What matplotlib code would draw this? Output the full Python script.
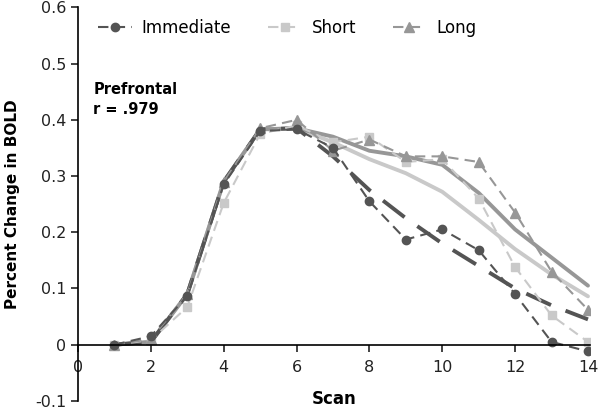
import numpy as np
import matplotlib.pyplot as plt

scan = np.arange(1, 15)

# observed values
immediate = [0, 0.015, 0.087, 0.285, 0.38, 0.383, 0.35, 0.255, 0.187, 0.205, 0.168, 0.09, 0.005, -0.012]
short = [0, 0.008, 0.067, 0.252, 0.375, 0.39, 0.36, 0.37, 0.325, 0.33, 0.26, 0.138, 0.052, 0.005]
long_ = [0, 0.01, 0.09, 0.29, 0.385, 0.4, 0.345, 0.365, 0.335, 0.335, 0.325, 0.235, 0.13, 0.062]

# model fits
immediate_fit = [0, 0.005, 0.09, 0.29, 0.383, 0.385, 0.335, 0.275, 0.225, 0.18, 0.14, 0.1, 0.07, 0.045]
short_fit = [0, 0.005, 0.09, 0.29, 0.383, 0.385, 0.36, 0.33, 0.305, 0.272, 0.222, 0.17, 0.125, 0.086]
long_fit = [0, 0.005, 0.09, 0.29, 0.383, 0.385, 0.37, 0.345, 0.335, 0.32, 0.27, 0.205, 0.155, 0.105]

yticks = [-0.1, 0, 0.1, 0.2, 0.3, 0.4, 0.5, 0.6]
ylabels = ['-0.1', '0', '0.1', '0.2', '0.3', '0.4', '0.5', '0.6']

c_imm = '#545454'
c_short = '#c9c9c9'
c_long = '#979797'

fig = plt.figure(figsize=(6, 4.12), dpi=100)
ax = fig.add_axes([0.13, 0.027, 0.853, 0.955])

# fits (thick, no markers)
ax.plot(scan, short_fit, color=c_short, lw=2.8, solid_capstyle='round')
ax.plot(scan, long_fit, color=c_long, lw=2.8, solid_capstyle='round')
ax.plot(scan, immediate_fit, color=c_imm, lw=2.8, dashes=(7, 4))

# observed data
ax.plot(scan, short, color=c_short, lw=1.5, dashes=(5, 3), marker='s', ms=5.5, label='Short')
ax.plot(scan, long_, color=c_long, lw=1.5, dashes=(5, 3), marker='^', ms=6.5, label='Long')
ax.plot(scan, immediate, color=c_imm, lw=1.5, dashes=(5, 3), marker='o', ms=6, label='Immediate')

ax.set_xlim(0, 14.05)
ax.set_ylim(-0.1, 0.6)
ax.set_xticks(range(0, 15, 2))
ax.set_yticks(yticks)
ax.set_yticklabels(ylabels)

ax.spines['top'].set_visible(False)
ax.spines['right'].set_visible(False)
ax.spines['bottom'].set_position(('data', 0))
ax.spines['left'].set_linewidth(1.2)
ax.spines['bottom'].set_linewidth(1.2)
ax.tick_params(direction='out', length=5, width=1.2, labelsize=11.5, colors='#222222')
ax.tick_params(axis='x', pad=6)

ax.set_xlabel('Scan', fontsize=12, fontweight='bold', va='center')
ax.xaxis.set_label_coords(0.5, 0.005)
ax.set_ylabel('Percent Change in BOLD', fontsize=11, fontweight='bold', va='center')
ax.yaxis.set_label_coords(-0.128, 0.5)

ax.text(0.42, 0.468, 'Prefrontal\nr = .979', fontsize=10.5, fontweight='bold',
        va='top', linespacing=1.45)

h, l = ax.get_legend_handles_labels()
order = [2, 0, 1]
ax.legend([h[i] for i in order], [l[i] for i in order], loc='upper left',
          bbox_to_anchor=(0.04, 0.97), ncol=3, frameon=False, fontsize=12,
          columnspacing=2.2, handlelength=2.0, handletextpad=0.6,
          borderaxespad=0, borderpad=0)

fig.savefig('out.png', dpi=100)
